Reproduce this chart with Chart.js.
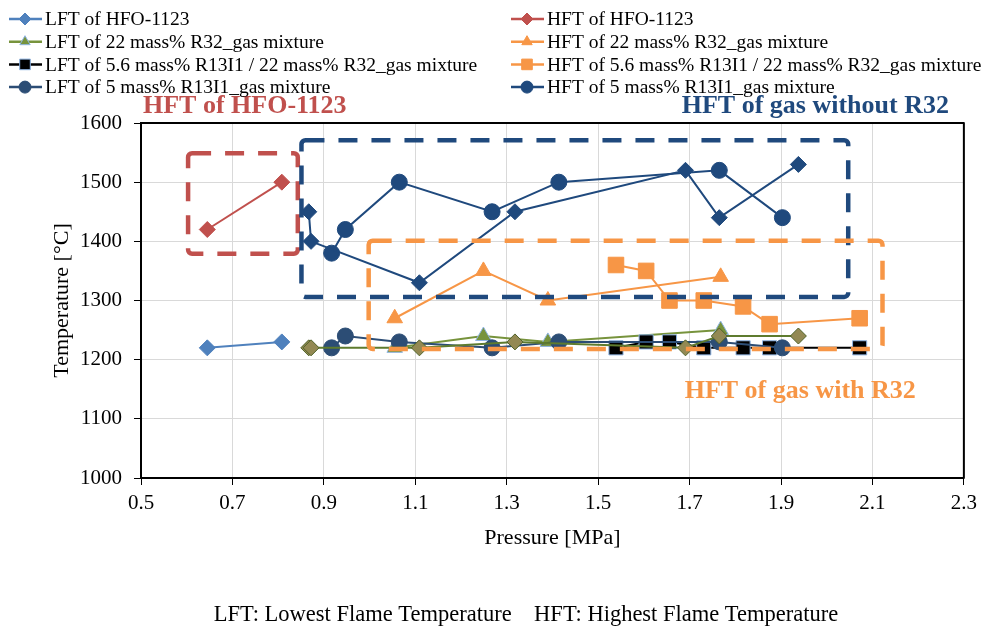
<!DOCTYPE html>
<html>
<head>
<meta charset="utf-8">
<script src="https://cdn.jsdelivr.net/npm/chart.js@4.4.1/dist/chart.umd.min.js"></script>
<style>
html, body { margin: 0; padding: 0; background: #fff; }
#wrap { position: relative; width: 983px; height: 626px; }
</style>
</head>
<body>
<div id="wrap"><canvas id="chart" width="983" height="626"></canvas></div>
<script>
// pressure [MPa] / temperature [°C]
var hfoP = [0.645, 0.808];
var hfoLFT = [1220, 1230];
var hfoHFT = [1420, 1500];

var r32P = [1.055, 1.249, 1.39, 1.768];
var r32LFT = [1220, 1240, 1230, 1250];
var r32HFT = [1270, 1350, 1300, 1340];

var mixP = [1.539, 1.605, 1.656, 1.731, 1.817, 1.875, 2.072];
var mixLFT = [1220, 1230, 1230, 1220, 1220, 1220, 1220];
var mixHFT = [1360, 1350, 1300, 1300, 1290, 1260, 1270];

var r13P = [0.917, 0.947, 1.065, 1.268, 1.414, 1.765, 1.903];
var r13LFT = [1220, 1240, 1230, 1220, 1230, 1230, 1220];
var r13HFT = [1380, 1420, 1500, 1450, 1500, 1520, 1440];

// diamond series drawn in the plot but not listed in the legend
var gasP = [0.867, 0.872, 1.109, 1.318, 1.691, 1.765, 1.938];
var gasLFT = [1220, 1220, 1220, 1230, 1220, 1240, 1240];
var gasHFT = [1450, 1400, 1330, 1450, 1520, 1440, 1530];

var xTicks = [0.5, 0.7, 0.9, 1.1, 1.3, 1.5, 1.7, 1.9, 2.1, 2.3];
var yTicks = [1000, 1100, 1200, 1300, 1400, 1500, 1600];

// dashed boxes (data units) and their captions
var boxes = [
    { x1: 0.603, x2: 0.843, y1: 1379, y2: 1549, color: '#C0504D' },
    { x1: 0.851, x2: 2.047, y1: 1306, y2: 1571, color: '#1F497D' },
    { x1: 0.998, x2: 2.122, y1: 1218, y2: 1401, color: '#F79646' }
];
var captions = [
    { text: 'HFT of HFO-1123', x: 0.727, y: 1629, color: '#C0504D' },
    { text: 'HFT of gas without R32', x: 1.975, y: 1629, color: '#1F497D' },
    { text: 'HFT of gas with R32', x: 1.942, y: 1147, color: '#F79646' }
];
var footnote = 'LFT: Lowest Flame Temperature    HFT: Highest Flame Temperature';

var SERIF = "'Liberation Serif', 'Times New Roman', serif";

function pts(xs, ys) {
    return xs.map(function (x, i) { return { x: x, y: ys[i] }; });
}

function series(label, xs, ys, line, fill, edge, style, r, inLegend) {
    return {
        label: label,
        data: pts(xs, ys),
        showLine: true,
        borderColor: line,
        backgroundColor: fill,
        borderWidth: 2,
        pointStyle: style,
        pointRadius: r,
        pointHoverRadius: r,
        pointBackgroundColor: fill,
        pointBorderColor: edge,
        pointBorderWidth: 1,
        inLegend: inLegend
    };
}

var datasets = [
    series('LFT of HFO-1123', hfoP, hfoLFT, '#4F81BD', '#4F81BD', '#4F81BD', 'rectRot', 8, true),
    series('HFT of HFO-1123', hfoP, hfoHFT, '#C0504D', '#C0504D', '#C0504D', 'rectRot', 8, true),
    series('LFT of 22 mass% R32_gas mixture', r32P, r32LFT, '#77933C', '#77933C', '#8EB4E3', 'triangle', 9, true),
    series('HFT of 22 mass% R32_gas mixture', r32P, r32HFT, '#F79646', '#F79646', '#F79646', 'triangle', 9, true),
    series('LFT of 5.6 mass% R13I1 / 22 mass% R32_gas mixture', mixP, mixLFT, '#000000', '#000000', '#8EB4E3', 'rect', 10, true),
    series('HFT of 5.6 mass% R13I1 / 22 mass% R32_gas mixture', mixP, mixHFT, '#F79646', '#F79646', '#F79646', 'rect', 11, true),
    series('LFT of 5 mass% R13I1_gas mixture', r13P, r13LFT, '#2C4D75', '#2C4D75', '#2C4D75', 'circle', 8, true),
    series('HFT of 5 mass% R13I1_gas mixture', r13P, r13HFT, '#1F497D', '#1F497D', '#1F497D', 'circle', 8, true),
    series('HFT of gas without R32', gasP, gasHFT, '#1F497D', '#1F497D', '#1F497D', 'rectRot', 8, false),
    series('LFT of gas without R32', gasP, gasLFT, '#5E7B2E', '#938953', '#4F6228', 'rectRot', 8, false)
];
// excel paints later series on top
datasets.forEach(function (d, i) { d.order = datasets.length - i; });

var decorations = {
    id: 'decorations',
    afterDatasetsDraw: function (chart) {
        var ctx = chart.ctx, xs = chart.scales.x, ys = chart.scales.y;
        var a = chart.chartArea;
        ctx.save();
        // dashed boxes
        ctx.lineWidth = 4.5;
        ctx.setLineDash([19, 14]);
        ctx.lineJoin = 'round';
        boxes.forEach(function (b) {
            var l = xs.getPixelForValue(b.x1), r = xs.getPixelForValue(b.x2);
            var t = ys.getPixelForValue(b.y2), btm = ys.getPixelForValue(b.y1);
            ctx.strokeStyle = b.color;
            ctx.beginPath();
            ctx.roundRect(l, t, r - l, btm - t, 4);
            ctx.stroke();
        });
        ctx.setLineDash([]);
        // frame
        ctx.strokeStyle = '#000';
        ctx.lineWidth = 2;
        ctx.strokeRect(a.left, a.top, a.right - a.left, a.bottom - a.top);
        // captions
        ctx.font = 'bold 26px ' + SERIF;
        ctx.textAlign = 'center';
        ctx.textBaseline = 'middle';
        captions.forEach(function (c) {
            ctx.fillStyle = c.color;
            ctx.fillText(c.text, xs.getPixelForValue(c.x), ys.getPixelForValue(c.y));
        });
        ctx.restore();
    },
    afterDraw: function (chart) {
        var ctx = chart.ctx;
        ctx.save();
        // two-column legend, filled row by row
        var items = chart.data.datasets.filter(function (d) { return d.inLegend; });
        ctx.font = '19.5px ' + SERIF;
        ctx.textBaseline = 'middle';
        ctx.textAlign = 'left';
        items.forEach(function (d, i) {
            var x0 = (i % 2) ? 511 : 9;
            var y = 19 + Math.floor(i / 2) * 22.7;
            ctx.strokeStyle = d.borderColor;
            ctx.lineWidth = 2.5;
            ctx.beginPath();
            ctx.moveTo(x0, y);
            ctx.lineTo(x0 + 33, y);
            ctx.stroke();
            ctx.fillStyle = d.pointBackgroundColor;
            ctx.strokeStyle = d.pointBorderColor;
            ctx.lineWidth = 1;
            Chart.helpers.drawPoint(ctx, {
                pointStyle: d.pointStyle,
                radius: d.pointStyle === 'rect' ? 7.5 : 6,
                rotation: 0,
                borderWidth: 1
            }, x0 + 16, y);
            ctx.fillStyle = '#000';
            ctx.fillText(d.label, x0 + 36, y + 1);
        });
        // footnote
        ctx.font = '22.5px ' + SERIF;
        ctx.textAlign = 'center';
        ctx.fillText(footnote, 526, 615);
        ctx.restore();
    }
};

new Chart(document.getElementById('chart').getContext('2d'), {
    type: 'scatter',
    data: { datasets: datasets },
    options: {
        responsive: false,
        animation: false,
        layout: { padding: { top: 123, left: 45, right: 13, bottom: 71 } },
        plugins: {
            legend: { display: false },
            tooltip: { enabled: false }
        },
        scales: {
            x: {
                type: 'linear',
                min: 0.5,
                max: 2.3,
                afterBuildTicks: function (scale) {
                    scale.ticks = xTicks.map(function (v) { return { value: v }; });
                },
                afterFit: function (scale) { scale.height = 77; },
                ticks: {
                    color: '#000',
                    font: { family: SERIF, size: 21 },
                    padding: 6,
                    callback: function (v) { return v.toFixed(1); }
                },
                grid: { color: '#D9D9D9', tickColor: '#000', tickLength: 7 },
                border: { color: '#000', width: 2 },
                title: {
                    display: true,
                    text: 'Pressure [MPa]',
                    color: '#000',
                    font: { family: SERIF, size: 22 }
                }
            },
            y: {
                min: 1000,
                max: 1600,
                afterBuildTicks: function (scale) {
                    scale.ticks = yTicks.map(function (v) { return { value: v }; });
                },
                afterFit: function (scale) { scale.width = 96; },
                ticks: {
                    color: '#000',
                    font: { family: SERIF, size: 21 },
                    padding: 12,
                    callback: function (v) { return String(v); }
                },
                grid: { color: '#D9D9D9', tickColor: '#000', tickLength: 7 },
                border: { color: '#000', width: 2 },
                title: {
                    display: true,
                    text: 'Temperature [°C]',
                    color: '#000',
                    font: { family: SERIF, size: 22 }
                }
            }
        }
    },
    plugins: [decorations]
});
</script>
</body>
</html>
